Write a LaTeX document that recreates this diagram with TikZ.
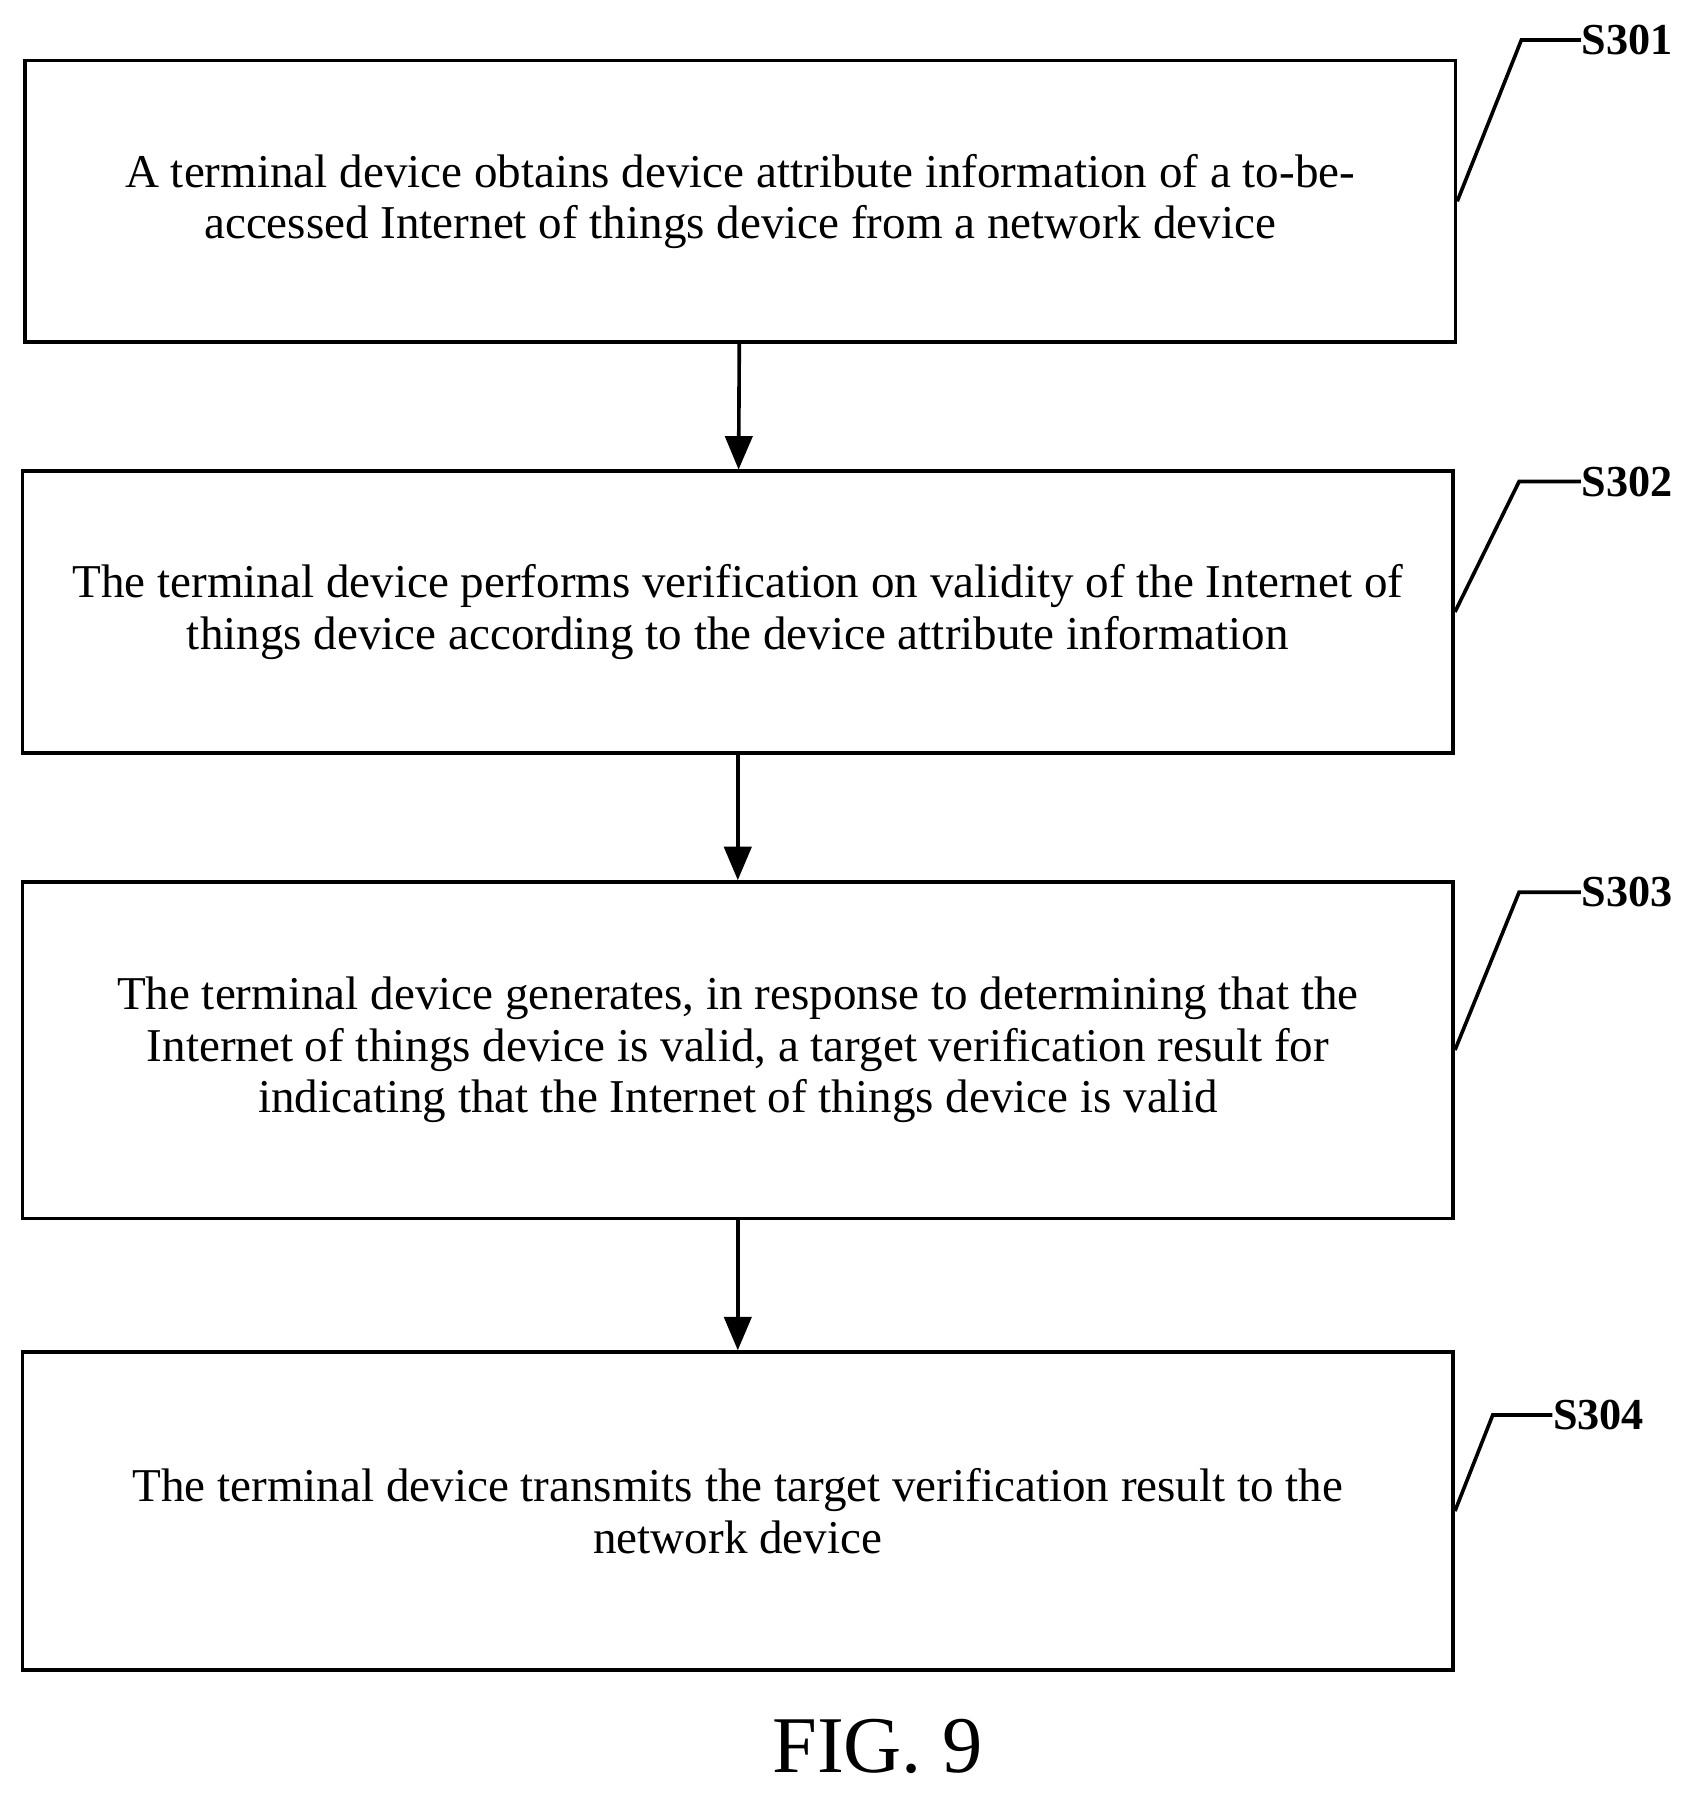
\documentclass[tikz,border=0pt]{standalone}
\usepackage{fontspec}
\setmainfont{Liberation Serif}
\usetikzlibrary{arrows}
\tikzstyle{process} = [rectangle, minimum width = 12.5cm, align = center, draw = black, line width = 0.9pt, font = \fontsize{11.7}{12.8}\selectfont]
\tikzstyle{arrow} = [line width = 0.9pt,->,>=triangle 45]
\tikzstyle{steplabel} = [anchor = west, inner sep = 0pt, font = \fontsize{11}{12}\selectfont\bfseries]
\tikzstyle{leader} = [line width = 0.9pt]

\begin{document}
\begin{tikzpicture}[x=0.01cm,y=-0.01cm]
\useasboundingbox (0,0) rectangle (1490,1571);

\node(obtain)   [process, minimum height = 2.46cm] at (647,176) {A terminal device obtains device attribute information of a to-be-\\accessed Internet of things device from a network device};
\node(verify)   [process, minimum height = 2.46cm] at (645,535) {The terminal device performs verification on validity of the Internet of\\things device according to the device attribute information};
\node(generate) [process, minimum height = 2.94cm] at (645,918) {The terminal device generates, in response to determining that the\\Internet of things device is valid, a target verification result for\\indicating that the Internet of things device is valid};
\node(transmit) [process, minimum height = 2.78cm] at (645,1321) {The terminal device transmits the target verification result to the\\network device};

\draw [arrow] (obtain) -- (verify);
\draw [arrow] (verify) -- (generate);
\draw [arrow] (generate) -- (transmit);

\node(sA) [steplabel] at (1382,35) {S301};
\node(sB) [steplabel] at (1382,421) {S302};
\node(sC) [steplabel] at (1382,780) {S303};
\node(sD) [steplabel] at (1357,1237) {S304};
\draw [leader] (obtain.east) -- (1330,35) -- (sA.west);
\draw [leader] (verify.east) -- (1328,421) -- (sB.west);
\draw [leader] (generate.east) -- (1328,780) -- (sC.west);
\draw [leader] (transmit.east) -- (1305,1237) -- (sD.west);

\node(fig) at (767,1527) {\fontsize{20}{24}\selectfont FIG. 9};

\end{tikzpicture}
\end{document}
